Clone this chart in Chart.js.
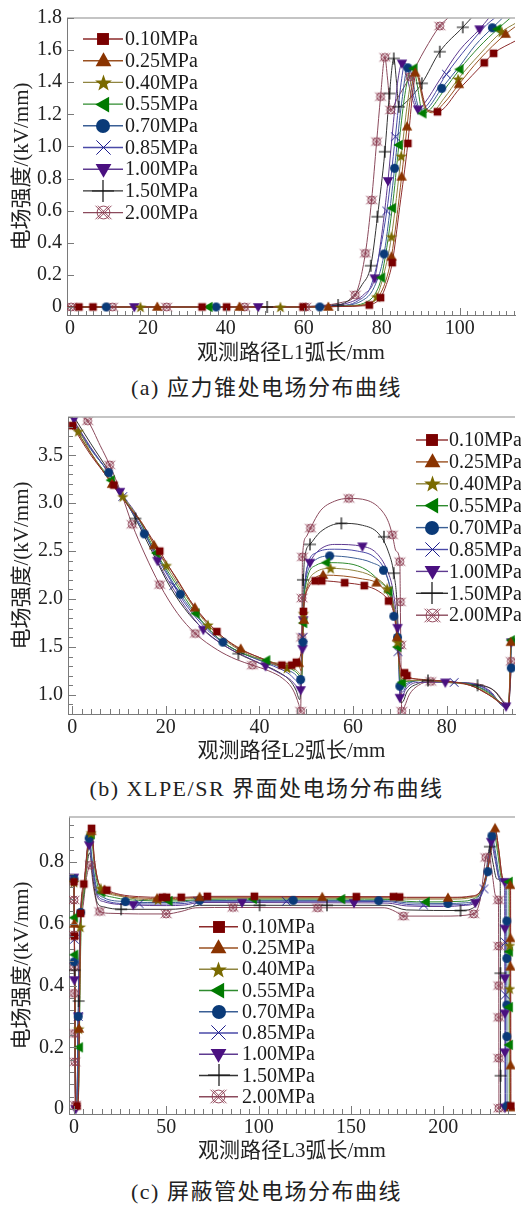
<!DOCTYPE html>
<html>
<head>
<meta charset="utf-8">
<script src="https://cdn.jsdelivr.net/npm/chart.js@4/dist/chart.umd.min.js"></script>
<style>
    body { margin: 0; background: #fff; width: 521px; height: 1205px; position: relative; overflow: hidden; }
    canvas { position: absolute; left: 0; }
    .cap { position: absolute; left: 6px; width: 521px; text-align: center; line-height: 26px;
           font-size: 22px; font-family: 'Liberation Serif', 'Noto Sans CJK SC', serif; color: #222; letter-spacing: 1.5px; }
</style>
</head>
<body>
<canvas id="chartA" width="521" height="366" style="top:0px"></canvas>
<div class="cap" style="top:375px">(a) 应力锥处电场分布曲线</div>
<canvas id="chartB" width="521" height="364" style="top:400px"></canvas>
<div class="cap" style="top:776px">(b) XLPE/SR 界面处电场分布曲线</div>
<canvas id="chartC" width="521" height="364" style="top:800px"></canvas>
<div class="cap" style="top:1179px">(c) 屏蔽管处电场分布曲线</div>
<script>
const pressures = ['0.10MPa', '0.25MPa', '0.40MPa', '0.55MPa', '0.70MPa', '0.85MPa', '1.00MPa', '1.50MPa', '2.00MPa'];

// ---- (a) stress cone, path L1 ----
const aXTicks = [0, 20, 40, 60, 80, 100];
const aYTicks = [0, 0.2, 0.4, 0.6, 0.8, 1.0, 1.2, 1.4, 1.6, 1.8];
const a010 = [[-1,0],[60,0],[70,0.003],[75,0.007],[76.8,0.012],[79.7,0.058],[81.2,0.14],[82.7,0.276],[84.6,0.62],[86.7,1.019],[87.8,1.3],[88.8,1.45],[89.6,1.43],[90.5,1.32],[91.6,1.23],[94.3,1.216],[100,1.36],[106.3,1.521],[108.7,1.58],[114.5,1.66]];
const a010m = [[2.3,0],[5.9,0],[33.9,0],[40.2,0],[59.8,0],[76.8,0.012],[79.7,0.058],[82.7,0.276],[86.7,1.019],[94.3,1.216],[106.3,1.521],[108.7,1.58]];
const a025 = [[-1,0],[60,0],[70,0.004],[76,0.015],[79,0.06],[81,0.16],[82.5,0.313],[85.1,0.811],[86.5,1.123],[87.6,1.35],[88.6,1.459],[89.5,1.42],[90.5,1.3],[91.6,1.225],[93,1.21],[96,1.27],[99.8,1.387],[105,1.54],[111.8,1.70],[114.5,1.75]];
const a025m = [[22.4,0],[43.5,0],[66.3,0],[82.5,0.313],[85.1,0.811],[86.5,1.123],[88.6,1.459],[99.8,1.387],[111.8,1.70]];
const a040 = [[-1,0],[60,0],[70,0.004],[76,0.02],[78.7,0.064],[80.5,0.2],[82.5,0.438],[85,0.94],[86.5,1.25],[87.6,1.42],[88.4,1.48],[89.3,1.43],[90.3,1.31],[91.3,1.22],[93,1.22],[96,1.3],[99.6,1.42],[105,1.57],[110.8,1.714],[114.5,1.77]];
const a040m = [[18.1,0],[54,0],[78.7,0.064],[82.5,0.438],[85,0.94],[99.6,1.42],[110.8,1.714]];
const a055 = [[-1,0],[60,0],[70,0.005],[76,0.03],[78.5,0.09],[79.9,0.183],[82.7,0.616],[84.4,1.009],[85.8,1.3],[87,1.45],[88.2,1.486],[89.2,1.37],[90.5,1.206],[92,1.22],[96,1.35],[100,1.48],[105,1.62],[109.7,1.73],[113,1.8]];
const a055m = [[35.6,0],[79.9,0.183],[82.7,0.616],[84.4,1.009],[88.2,1.486],[90.5,1.206],[100,1.48],[109.7,1.73]];
const a070 = [[-1,0],[60,0],[68,0.005],[75,0.04],[78,0.12],[80.6,0.33],[83.3,0.864],[85,1.25],[86.7,1.49],[87.7,1.45],[88.8,1.3],[90,1.22],[91.5,1.23],[95.4,1.362],[100,1.5],[104,1.63],[108.4,1.739],[111,1.8]];
const a070m = [[9.3,0],[37.5,0],[64.1,0],[80.6,0.33],[83.3,0.864],[86.7,1.49],[95.4,1.362],[108.4,1.739]];
const a085 = [[-1,0],[60,0],[68,0.006],[74,0.04],[77.5,0.15],[81.3,0.598],[83.5,1.06],[85,1.4],[86,1.52],[87,1.45],[88.3,1.3],[89.6,1.23],[91,1.24],[96.6,1.45],[102,1.62],[107,1.76],[109,1.8]];
const a085m = [[81.3,0.598],[83.5,1.06],[96.6,1.45]];
const a100 = [[-1,0],[58,0],[66,0.006],[72,0.03],[75.5,0.08],[78.2,0.179],[80,0.45],[81.6,0.785],[83,1.15],[84.2,1.42],[85.2,1.517],[86.3,1.45],[87.8,1.3],[89.3,1.231],[91,1.27],[95,1.42],[100,1.6],[105.1,1.73],[107.5,1.8]];
const a100m = [[16.5,0],[48.3,0],[78.2,0.179],[81.6,0.785],[85.2,1.517],[89.3,1.231],[105.1,1.73]];
const a150 = [[-1,0],[55,0],[65,0.006],[68.8,0.012],[72,0.05],[75,0.14],[77.2,0.257],[78.9,0.562],[80.8,0.967],[82,1.33],[83.1,1.548],[83.8,1.4],[84.4,1.247],[86,1.27],[90.3,1.393],[94.9,1.59],[100.8,1.742],[103,1.8]];
const a150m = [[50.6,0],[68.8,0.012],[77.2,0.257],[78.9,0.562],[80.8,0.967],[82,1.33],[83.1,1.548],[84.4,1.247],[90.3,1.393],[94.9,1.59],[100.8,1.742]];
const a200 = [[-1,0],[55,0],[65,0.01],[70,0.03],[73.2,0.075],[75.8,0.334],[77.4,0.666],[78.7,1.03],[79.7,1.31],[80.8,1.555],[81.5,1.42],[82.3,1.227],[84,1.3],[87.3,1.434],[91,1.6],[94.9,1.75],[97,1.8]];
const a200m = [[0.3,0],[10.9,0],[24.8,0],[44.8,0],[60.5,0],[73.2,0.075],[75.8,0.334],[77.4,0.666],[78.7,1.03],[79.7,1.31],[80.8,1.555],[82.3,1.227],[87.3,1.434],[94.9,1.75]];

// ---- (b) XLPE/SR interface, path L2 ----
const bXTicks = [0, 20, 40, 60, 80];
const bYTicks = [1.0, 1.5, 2.0, 2.5, 3.0, 3.5];
const b010 = [[0,3.81],[4,3.5],[8.9,3.19],[12,2.97],[15,2.78],[18.7,2.5],[22,2.23],[26,1.93],[30.9,1.66],[35,1.5],[40,1.39],[44.8,1.31],[46.9,1.31],[47.9,1.34],[48.6,1.38],[49.1,1.55],[49.4,1.87],[49.7,2.0],[50.5,2.12],[51.9,2.19],[53.3,2.19],[58.2,2.17],[62.4,2.14],[65.5,2.08],[67.6,1.98],[68.7,1.85],[69.2,1.68],[69.6,1.45],[70.3,1.27],[71,1.23],[71.5,1.2],[74,1.16],[80,1.14],[85,1.1],[89,1.0],[92.2,0.9],[93.2,0.88],[93.8,1.3]];
const b010m = [[0.1,3.81],[8.9,3.19],[18.7,2.5],[30.9,1.66],[44.8,1.31],[46.9,1.31],[47.9,1.34],[49.4,1.87],[51.9,2.19],[53.3,2.19],[58.2,2.17],[62.4,2.14],[67.6,1.98],[71,1.23],[71.5,1.2]];
const b025 = [[0,3.83],[4,3.52],[8.5,3.2],[12,2.97],[15,2.79],[17.5,2.56],[22,2.24],[26.2,1.91],[31,1.65],[36,1.48],[40,1.39],[44,1.33],[47.4,1.33],[48.5,1.3],[48.9,1.25],[49.2,1.45],[49.4,1.9],[49.7,2.02],[50.5,2.15],[51.8,2.22],[53.6,2.25],[58,2.24],[62,2.21],[65,2.17],[67.3,2.05],[68.6,1.9],[69.2,1.72],[69.6,1.45],[70.2,1.2],[70.8,1.17],[72,1.17],[75,1.16],[80,1.14],[85,1.1],[89,1.0],[92.3,0.89],[93.2,0.88],[93.7,1.55]];
const b025m = [[8.5,3.2],[17.5,2.56],[26.2,1.91],[36,1.48],[48.4,1.33],[49.5,1.78],[53.6,2.25],[65,2.17],[69.4,1.6],[93.7,1.55]];
const b040 = [[0,3.77],[1.3,3.75],[4,3.53],[8.5,3.2],[10.8,3.07],[15,2.78],[20.1,2.35],[25,1.98],[29,1.73],[34,1.52],[40,1.37],[45.9,1.28],[47.8,1.26],[48.6,1.22],[49,1.2],[49.3,1.6],[49.5,1.95],[49.8,2.05],[50.6,2.2],[52,2.28],[55.2,2.32],[60,2.3],[64,2.24],[67.3,2.11],[68.6,1.95],[69.3,1.72],[69.7,1.4],[70.2,1.17],[70.8,1.14],[72,1.15],[76,1.15],[80,1.13],[85,1.1],[89,1.01],[92.4,0.89],[93.2,0.88],[93.7,1.5]];
const b040m = [[1.3,3.75],[10.8,3.07],[20.1,2.35],[29,1.73],[45.9,1.28],[49.4,1.85],[55.2,2.32],[67.3,2.11],[69.5,1.55]];
const b055 = [[0,3.84],[4,3.52],[8.3,3.24],[10.5,3.08],[14,2.85],[18,2.48],[22,2.17],[26.4,1.85],[31,1.6],[36,1.44],[41.5,1.36],[45,1.3],[47.5,1.25],[48.5,1.2],[49,1.15],[49.3,1.55],[49.5,2.0],[49.8,2.12],[50.6,2.28],[52,2.35],[54.3,2.38],[59,2.37],[63,2.3],[66,2.17],[67.6,2.08],[68.6,1.9],[69.3,1.7],[69.7,1.42],[70.1,1.15],[70.6,1.13],[71.5,1.14],[75,1.15],[80,1.13],[85,1.11],[89,1.02],[92.4,0.89],[93.2,0.88],[93.8,1.57]];
const b055m = [[8.3,3.24],[18,2.48],[26.4,1.85],[41.5,1.36],[49.4,1.75],[54.3,2.38],[67.6,2.08],[69.5,1.5],[70.5,1.13],[93.8,1.57]];
const b070 = [[0,3.86],[4,3.56],[7.8,3.32],[10.5,3.1],[15.4,2.68],[19,2.38],[23.1,2.05],[27.5,1.77],[32.2,1.55],[37,1.42],[42,1.33],[45.5,1.27],[47.5,1.22],[48.3,1.18],[48.8,1.16],[49.2,1.4],[49.5,1.95],[49.8,2.15],[50.6,2.33],[52,2.41],[55,2.45],[60,2.43],[64,2.38],[66.5,2.3],[67.8,2.15],[68.6,1.95],[69.3,1.7],[69.7,1.4],[70,1.09],[70.6,1.08],[71.5,1.12],[75,1.15],[80,1.13],[85,1.11],[89,1.03],[92.5,0.88],[93.2,0.88],[93.8,1.28]];
const b070m = [[7.8,3.32],[15.4,2.68],[23.1,2.05],[32.2,1.55],[48.8,1.16],[49.3,1.55],[55,2.45],[66.5,2.3],[68.7,1.82],[69.5,1.6],[70,1.09],[93.8,1.28]];
const b085 = [[0,3.88],[4,3.57],[8,3.3],[10.8,3.07],[14,2.82],[19,2.36],[21.7,2.14],[24,1.96],[29,1.67],[34,1.49],[39,1.38],[43,1.3],[46,1.23],[47.8,1.15],[48.7,1.1],[49.1,1.3],[49.4,1.9],[49.8,2.2],[50.6,2.4],[52,2.48],[56,2.52],[61,2.5],[64.5,2.44],[66.8,2.3],[68,2.1],[68.8,1.9],[69.4,1.65],[69.8,1.3],[70,1.03],[70.6,1.03],[71.5,1.1],[75,1.15],[81.6,1.13],[86,1.11],[89,1.04],[92.5,0.88],[93.2,0.88],[93.8,1.5]];
const b085m = [[10.8,3.07],[21.7,2.14],[49.3,1.6],[69.6,1.45],[81.6,1.13]];
const b100 = [[0,3.89],[4,3.58],[8,3.3],[10.2,3.12],[14,2.86],[18.2,2.4],[23,2.0],[28,1.68],[33,1.5],[37,1.4],[41.3,1.3],[44.5,1.22],[46.8,1.15],[48.1,1.08],[48.8,1.05],[49.1,1.3],[49.4,1.8],[49.8,2.2],[50.8,2.38],[52.5,2.5],[56,2.57],[62,2.55],[65,2.48],[67.3,2.3],[68.5,2.1],[69.3,1.8],[69.8,1.5],[70,0.97],[70.5,0.98],[71.3,1.06],[74,1.13],[79.7,1.13],[86,1.11],[89.3,1.04],[92.5,0.87],[93.2,0.88],[93.8,1.55]];
const b100m = [[0.4,3.88],[10.2,3.12],[18.2,2.4],[28,1.68],[41.3,1.3],[48.8,1.05],[49.2,1.48],[49.35,1.78],[50.8,2.38],[62,2.55],[69.5,1.7],[70,0.97],[79.7,1.13],[92.7,0.88],[93.8,1.55]];
const b150 = [[0,3.93],[4,3.62],[8,3.32],[10.5,3.1],[13.5,2.84],[17,2.5],[21,2.12],[25,1.84],[30,1.6],[35.5,1.43],[40,1.33],[44,1.24],[46.5,1.15],[47.8,1.05],[48.6,0.95],[49,1.3],[49.3,2.0],[49.6,2.4],[50.8,2.57],[53,2.7],[57.5,2.79],[62,2.77],[65.5,2.68],[67.5,2.5],[68.7,2.27],[69.4,1.95],[69.9,1.3],[70.2,0.92],[70.7,0.93],[71.5,1.03],[74,1.12],[76,1.15],[80,1.14],[86.6,1.1],[90,1.05],[92.5,0.9],[93.2,0.88],[93.8,1.5]];
const b150m = [[13.5,2.84],[35.5,1.43],[49.3,2.2],[50.8,2.57],[57.5,2.79],[66.6,2.65],[68.7,2.27],[76,1.15],[86.6,1.1]];
const b200 = [[0,3.98],[3.3,3.86],[6,3.6],[8,3.4],[10.5,3.1],[12.8,2.78],[15.5,2.47],[18.7,2.15],[22.5,1.85],[26.3,1.64],[31,1.47],[35,1.37],[38.5,1.31],[42,1.25],[45,1.17],[47.2,1.05],[48.4,0.9],[48.8,0.83],[49,1.6],[49.1,2.01],[49.2,2.44],[50,2.65],[50.9,2.74],[53,2.92],[56,3.02],[59.1,3.05],[63,3.03],[66,2.93],[67.6,2.8],[68.4,2.67],[69.2,2.5],[70,2.39],[70.1,1.97],[70.2,1.52],[70.4,0.83],[71,0.88],[72,1.0],[74,1.1],[76.6,1.14],[82,1.13],[87,1.11],[90.5,1.03],[92.4,0.92],[93.2,0.9],[93.8,1.35]];
const b200m = [[3.3,3.86],[8,3.4],[12.8,2.78],[18.7,2.15],[26.3,1.64],[38.5,1.31],[48.8,0.83],[49,1.6],[49.1,2.01],[49.2,2.44],[50.9,2.74],[59.1,3.05],[68.4,2.67],[70,2.39],[70.1,1.97],[70.2,1.52],[70.4,0.83],[76.6,1.14],[93.8,1.35]];

// ---- (c) shielding tube, path L3 ----
const cXTicks = [0, 50, 100, 150, 200];
const cYTicks = [0, 0.2, 0.4, 0.6, 0.8];
const c010 = [[0,0.736],[0.4,0.4],[0.8,0.02],[1.6,0.01],[2.3,0.02],[2.9,0.3],[3.6,0.634],[5.3,0.729],[7.5,0.86],[9.5,0.909],[11.2,0.8],[13.5,0.73],[17.8,0.709],[25,0.695],[35,0.688],[47.8,0.686],[60,0.686],[72.2,0.689],[100,0.689],[152.9,0.688],[173,0.688],[180,0.686],[205,0.686],[215,0.69],[220,0.705],[223.5,0.76],[226.5,0.86],[228.3,0.9],[230,0.84],[232,0.75],[234,0.738],[236.4,0.735],[236.5,0.4],[236.6,0]];
const c010m = [[0,0.736],[0.3,0.56],[1.6,0.01],[3.6,0.634],[5.3,0.729],[9.5,0.909],[17.8,0.709],[47.8,0.686],[50.1,0.686],[58.1,0.686],[72.2,0.689],[97.7,0.689],[152.9,0.688],[173,0.688],[176.3,0.687],[236.6,0.01]];
const c025 = [[0,0.73],[0.45,0.4],[0.9,0.02],[1.7,0.01],[2.4,0.05],[3,0.35],[3.7,0.62],[5.5,0.73],[7.6,0.855],[9.4,0.9],[11.2,0.8],[13.5,0.73],[16.5,0.71],[25,0.692],[35,0.684],[50,0.682],[60,0.683],[68,0.686],[100,0.686],[134.4,0.686],[172,0.686],[180,0.684],[202.5,0.684],[215,0.688],[220,0.705],[223.5,0.765],[226.5,0.87],[228,0.909],[229.8,0.85],[232,0.75],[234,0.737],[236.2,0.735],[236.3,0.45],[236.4,0]];
const c025m = [[0.2,0.6],[2.7,0.26],[9.4,0.9],[16.5,0.71],[45,0.682],[68,0.686],[134.4,0.686],[202.5,0.684],[228,0.909],[236.2,0.725],[236.3,0.553],[236.3,0.461],[236.4,0.141],[236.4,0.005]];
const c040 = [[0,0.74],[0.45,0.4],[0.9,0.02],[1.7,0.01],[2.4,0.05],[3.1,0.35],[3.8,0.6],[5.6,0.72],[7.7,0.85],[9.3,0.895],[11.1,0.8],[13.5,0.725],[16.5,0.705],[25,0.689],[35,0.68],[45.5,0.678],[58,0.679],[68,0.683],[100,0.683],[170,0.683],[180,0.68],[205,0.68],[215,0.685],[220,0.7],[223.5,0.76],[226.3,0.86],[227.8,0.9],[229.6,0.84],[231.8,0.745],[234,0.735],[235.8,0.732],[235.9,0.4],[236,0]];
const c040m = [[0,0.735],[2.6,0.26],[3.4,0.59],[9.3,0.895],[14.5,0.715],[45.5,0.678],[235.9,0.53],[235.9,0.39]];
const c055 = [[0,0.74],[0.45,0.4],[0.9,0.02],[1.7,0.01],[2.5,0.05],[3.2,0.35],[3.9,0.6],[5.7,0.71],[7.7,0.845],[9.2,0.89],[11,0.79],[13,0.72],[14.8,0.702],[22,0.685],[35,0.676],[51.3,0.674],[60,0.675],[68,0.679],[97,0.68],[144.8,0.68],[170,0.679],[180,0.673],[190.6,0.671],[210,0.673],[216,0.68],[220,0.7],[223.5,0.76],[226.2,0.86],[227.6,0.89],[229.4,0.83],[231.6,0.745],[234,0.737],[235.5,0.736],[235.6,0.4],[235.7,0]];
const c055m = [[0.1,0.62],[0.25,0.5],[2.8,0.2],[9.2,0.89],[14.8,0.702],[51.3,0.674],[97,0.68],[144.8,0.68],[190.6,0.671],[235.5,0.736],[235.6,0.51],[235.6,0.33],[235.6,0.208]];
const c070 = [[0,0.745],[0.45,0.4],[0.9,0.02],[1.6,0.01],[2.3,0.3],[3.6,0.637],[5.5,0.72],[7.2,0.84],[8.2,0.877],[10,0.8],[12.5,0.71],[16,0.685],[27.8,0.672],[40,0.669],[55,0.669],[66,0.675],[118.7,0.676],[165,0.675],[172,0.674],[180,0.668],[202.5,0.666],[212,0.668],[218,0.68],[221.5,0.72],[224.1,0.769],[226.3,0.885],[228,0.84],[230.5,0.75],[232.5,0.737],[234.3,0.735],[234.4,0.4],[234.5,0]];
const c070m = [[0,0.745],[0.1,0.477],[2.3,0.3],[3.6,0.637],[8.2,0.877],[27.8,0.672],[68,0.676],[118.7,0.676],[165,0.675],[202.5,0.666],[224.1,0.769],[226.3,0.885],[234.4,0.609],[234.4,0.488],[234.4,0.337],[234.4,0.235],[234.5,0.01]];
const c085 = [[0,0.745],[0.45,0.4],[0.9,0.02],[1.6,0.01],[2.3,0.3],[3.5,0.62],[5.4,0.715],[7.2,0.835],[8.3,0.868],[10,0.79],[12.5,0.7],[16,0.678],[30,0.665],[50,0.664],[60,0.666],[68,0.673],[115,0.673],[170,0.672],[180,0.663],[189.3,0.661],[210,0.662],[217,0.672],[222,0.713],[224.2,0.78],[226,0.87],[227.8,0.83],[230.2,0.745],[232,0.737],[233.5,0.735],[233.6,0.4],[233.7,0]];
const c085m = [[0.2,0.55],[2.3,0.3],[35.3,0.665],[67,0.673],[115,0.673],[189.3,0.661],[222,0.713],[233.6,0.54],[233.6,0.37]];
const c100 = [[0,0.75],[0.45,0.42],[0.9,0],[1.5,0],[2.2,0.25],[3.4,0.6],[5.3,0.71],[7.1,0.82],[8.2,0.855],[10,0.775],[12.5,0.69],[16,0.672],[32.1,0.661],[50,0.659],[60,0.661],[68,0.669],[91,0.669],[151.6,0.668],[170,0.667],[180,0.658],[200,0.656],[212,0.66],[217.3,0.668],[221.5,0.715],[224,0.79],[225.9,0.866],[227.6,0.82],[230,0.75],[232,0.738],[233.2,0.736],[233.3,0.4],[233.4,0]];
const c100m = [[0,0.75],[0.15,0.418],[0.9,0],[2.3,0.3],[8.2,0.855],[32.1,0.661],[91,0.669],[151.6,0.668],[217.3,0.668],[225.9,0.866],[233.2,0.736],[233.3,0.585],[233.3,0.424],[233.3,0.31],[233.3,0.184],[233.4,0.005]];
const c150 = [[0,0.72],[0.45,0.4],[0.9,0],[1.5,0],[2.2,0.25],[3.3,0.58],[5.2,0.69],[7,0.79],[8.5,0.83],[10.2,0.75],[12.5,0.67],[16,0.655],[25.5,0.647],[50,0.647],[60,0.65],[68,0.66],[100.5,0.66],[137,0.66],[170,0.66],[180,0.645],[209.3,0.643],[215,0.648],[220,0.685],[223,0.76],[225.2,0.85],[226.8,0.8],[229,0.745],[230.8,0.735],[230.9,0.4],[231,0]];
const c150m = [[0.3,0.45],[2.5,0.35],[25.5,0.647],[100.5,0.66],[137,0.66],[209.3,0.643],[225.2,0.85],[230.9,0.44],[231,0.108]];
const c200 = [[0,0.677],[0.4,0.3],[0.7,0.013],[1.4,0],[2.1,0.2],[3.2,0.56],[5,0.66],[6.8,0.75],[8.9,0.79],[10.5,0.72],[13.9,0.64],[20,0.634],[35,0.632],[49.9,0.632],[58,0.64],[66,0.652],[86.1,0.653],[131.9,0.652],[168,0.652],[174,0.64],[178.4,0.625],[200,0.625],[216.4,0.632],[220,0.68],[223,0.815],[224.5,0.83],[226.5,0.76],[228.4,0.69],[229.8,0.677],[230,0.4],[230.1,0]];
const c200m = [[0,0.677],[0.05,0.564],[0.1,0.46],[0.2,0.375],[0.3,0.245],[0.5,0.153],[0.7,0.013],[8.9,0.79],[13.9,0.64],[49.9,0.632],[86.1,0.653],[131.9,0.652],[178.4,0.625],[216.4,0.632],[223,0.815],[229.8,0.677],[230,0.528],[230,0.4],[230,0.297],[230,0.165],[230.1,0.003]];

// ---- look ----
const markColors = ['#7a0000', '#8a3300', '#7a6a00', '#007a00', '#0a3a78', '#1c1c8c', '#4a1080', '#111111', '#8b3a4f'];
const lineColors = ['#8c2a2a', '#9a5020', '#8f8540', '#2e8b2e', '#3a5f95', '#4a4aa8', '#5e3a90', '#333333', '#8b4a5c'];
const kinds = ['square', 'triUp', 'star', 'triLeft', 'circle', 'x', 'triDown', 'plus', 'xcircle'];
const plotSize = { square: 9, triUp: 10, star: 11, triLeft: 10, circle: 9, x: 9, triDown: 10, plus: 11, xcircle: 10 };
const legendSize = { square: 14, triUp: 15, star: 16, triLeft: 15, circle: 14, x: 15, triDown: 15, plus: 20, xcircle: 16 };

Chart.defaults.font.family = "'Liberation Serif', 'Noto Sans CJK SC', serif";
Chart.defaults.color = '#222';

function makeMarker(kind, color, s) {
    const c = document.createElement('canvas');
    const n = Math.ceil(s * 1.4) + 2;
    c.width = n; c.height = n;
    const g = c.getContext('2d');
    const m = n / 2;
    g.fillStyle = color;
    g.strokeStyle = color;
    g.lineWidth = 1;
    const poly = pts => {
        g.beginPath();
        pts.forEach((p, i) => i ? g.lineTo(m + p[0], m + p[1]) : g.moveTo(m + p[0], m + p[1]));
        g.closePath();
        g.fill();
    };
    const r = s / 2;
    if (kind === 'square') {
        g.fillRect(m - r * 0.85, m - r * 0.85, r * 1.7, r * 1.7);
    } else if (kind === 'triUp') {
        poly([[0, -r * 1.1], [r * 1.05, r * 0.75], [-r * 1.05, r * 0.75]]);
    } else if (kind === 'triDown') {
        poly([[0, r * 1.1], [r * 1.05, -r * 0.75], [-r * 1.05, -r * 0.75]]);
    } else if (kind === 'triLeft') {
        poly([[-r * 1.1, 0], [r * 0.75, -r * 1.05], [r * 0.75, r * 1.05]]);
    } else if (kind === 'star') {
        const pts = [];
        for (let k = 0; k < 10; k++) {
            const a = -Math.PI / 2 + k * Math.PI / 5;
            const rad = k % 2 ? r * 0.45 : r * 1.1;
            pts.push([Math.cos(a) * rad, Math.sin(a) * rad + r * 0.1]);
        }
        poly(pts);
    } else if (kind === 'circle') {
        g.beginPath(); g.arc(m, m, r, 0, Math.PI * 2); g.fill();
    } else if (kind === 'x') {
        const h = r * 0.95;
        g.beginPath();
        g.moveTo(m - h, m - h); g.lineTo(m + h, m + h);
        g.moveTo(m + h, m - h); g.lineTo(m - h, m + h);
        g.stroke();
    } else if (kind === 'plus') {
        const h = r * 1.1;
        g.lineWidth = 1.2;
        g.beginPath();
        g.moveTo(m - h, m); g.lineTo(m + h, m);
        g.moveTo(m, m - h); g.lineTo(m, m + h);
        g.stroke();
    } else if (kind === 'xcircle') {
        const h = r * 0.85;
        g.lineWidth = 0.9;
        g.beginPath(); g.arc(m, m, r * 0.8, 0, Math.PI * 2); g.stroke();
        g.beginPath();
        [-1.2, 1.2].forEach(o => {
            g.moveTo(m - h + o, m - h); g.lineTo(m + h + o, m + h);
            g.moveTo(m + h + o, m - h); g.lineTo(m - h + o, m + h);
        });
        g.stroke();
    }
    return c;
}

const plotMarkers = kinds.map((k, i) => makeMarker(k, markColors[i], plotSize[k]));
const legendMarkers = kinds.map((k, i) => makeMarker(k, markColors[i], legendSize[k]));

const seriesLegend = {
    id: 'seriesLegend',
    afterDatasetsDraw(chart, args, o) {
        const ctx = chart.ctx;
        ctx.save();
        ctx.font = "20px 'Liberation Serif'";
        ctx.textBaseline = 'middle';
        pressures.forEach((label, i) => {
            const y = o.y + i * o.dy;
            ctx.strokeStyle = lineColors[i];
            ctx.lineWidth = 1.4;
            ctx.beginPath(); ctx.moveTo(o.x0, y); ctx.lineTo(o.x1, y); ctx.stroke();
            const img = legendMarkers[i];
            ctx.drawImage(img, Math.round((o.x0 + o.x1) / 2 - img.width / 2), Math.round(y - img.height / 2));
            ctx.fillStyle = '#1a1a1a';
            ctx.fillText(label, o.tx, y + 1);
        });
        ctx.restore();
    }
};

const innerTicks = {
    id: 'innerTicks',
    afterDatasetsDraw(chart, args, o) {
        const { ctx, chartArea: area, scales } = chart;
        ctx.save();
        ctx.strokeStyle = '#b0b0b0';
        ctx.lineWidth = 1.5;
        ctx.beginPath(); ctx.moveTo(area.left, area.top); ctx.lineTo(area.right, area.top); ctx.stroke();
        ctx.strokeStyle = '#7a7a7a';
        ctx.lineWidth = 1;
        ['x', 'y'].forEach(id => {
            const s = scales[id];
            const step = o[id + 'Minor'];
            const majors = s.ticks.map(t => t.value);
            for (let k = Math.ceil(s.min / step - 1e-9); k * step <= s.max + 1e-9; k++) {
                const v = k * step;
                const major = majors.some(mv => Math.abs(mv - v) < step / 100);
                const len = major ? o.majorLen : o.minorLen;
                const p = Math.round(s.getPixelForValue(v)) + 0.5;
                ctx.beginPath();
                if (id === 'x') { ctx.moveTo(p, area.bottom); ctx.lineTo(p, area.bottom - len); }
                else { ctx.moveTo(area.left, p); ctx.lineTo(area.left + len, p); }
                ctx.stroke();
            }
        });
        ctx.restore();
    }
};

function buildDatasets(lines, marks) {
    const sets = [];
    lines.forEach((pts, i) => sets.push({
        data: pts.map(p => ({ x: p[0], y: p[1] })),
        showLine: true,
        borderColor: lineColors[i],
        borderWidth: 1,
        pointRadius: 0,
        cubicInterpolationMode: 'monotone',
        order: 2
    }));
    marks.forEach((pts, i) => sets.push({
        data: pts.map(p => ({ x: p[0], y: p[1] })),
        showLine: false,
        pointStyle: plotMarkers[i],
        pointRadius: 5,
        order: 1
    }));
    return sets;
}

function fmt(v) { return v === 0 ? '0' : v.toFixed(1); }

function makeChart(id, cfg) {
    return new Chart(document.getElementById(id), {
        type: 'scatter',
        data: { datasets: buildDatasets(cfg.lines, cfg.marks) },
        options: {
            responsive: false,
            animation: false,
            layout: { padding: { top: cfg.padTop, left: 0, right: cfg.padRight, bottom: 0 } },
            plugins: {
                legend: { display: false },
                tooltip: { enabled: false },
                seriesLegend: cfg.legend,
                innerTicks: cfg.ticks
            },
            scales: {
                x: {
                    type: 'linear',
                    min: cfg.xMin, max: cfg.xMax,
                    afterBuildTicks: s => { s.ticks = cfg.xTicks.map(v => ({ value: v })); },
                    afterFit: s => { s.height = cfg.xHeight; },
                    grid: { display: false, drawTicks: false },
                    border: { color: '#7a7a7a', width: 1 },
                    ticks: { padding: 2, font: { size: 20 }, color: '#222', maxRotation: 0, callback: v => String(v) },
                    title: { display: true, text: cfg.xTitle, font: { size: 21 }, color: '#222', padding: { top: 0, bottom: 0 } }
                },
                y: {
                    type: 'linear',
                    min: cfg.yMin, max: cfg.yMax,
                    afterBuildTicks: s => { s.ticks = cfg.yTicks.map(v => ({ value: v })); },
                    afterFit: s => { s.width = cfg.yWidth; },
                    grid: { display: false, drawTicks: false },
                    border: { color: '#7a7a7a', width: 1 },
                    ticks: { padding: 5, font: { size: 20 }, color: '#222', callback: v => fmt(v) },
                    title: { display: true, text: '电场强度/(kV/mm)', font: { size: 21 }, color: '#222', padding: { top: 10, bottom: 0 } }
                }
            }
        },
        plugins: [innerTicks, seriesLegend]
    });
}

makeChart('chartA', {
    lines: [a010, a025, a040, a055, a070, a085, a100, a150, a200],
    marks: [a010m, a025m, a040m, a055m, a070m, a085m, a100m, a150m, a200m],
    xMin: -0.76, xMax: 114.2, yMin: -0.05, yMax: 1.8,
    xTicks: aXTicks, yTicks: aYTicks,
    xTitle: '观测路径L1弧长/mm',
    padTop: 18, padRight: 0, xHeight: 51, yWidth: 67,
    legend: { x0: 83, x1: 123, tx: 125, y: 39, dy: 21.7 },
    ticks: { xMinor: 2, yMinor: 0.2, majorLen: 7, minorLen: 4 }
});

makeChart('chartB', {
    lines: [b010, b025, b040, b055, b070, b085, b100, b150, b200],
    marks: [b010m, b025m, b040m, b055m, b070m, b085m, b100m, b150m, b200m],
    xMin: -0.9, xMax: 94.6, yMin: 0.8, yMax: 3.9,
    xTicks: bXTicks, yTicks: bYTicks,
    xTitle: '观测路径L2弧长/mm',
    padTop: 17, padRight: 0, xHeight: 50, yWidth: 68,
    legend: { x0: 416, x1: 448, tx: 449, y: 40, dy: 21.9 },
    ticks: { xMinor: 2, yMinor: 0.1, majorLen: 8, minorLen: 5 }
});

makeChart('chartC', {
    lines: [c010, c025, c040, c055, c070, c085, c100, c150, c200],
    marks: [c010m, c025m, c040m, c055m, c070m, c085m, c100m, c150m, c200m],
    xMin: -2.7, xMax: 238.8, yMin: -0.016, yMax: 0.946,
    xTicks: cXTicks, yTicks: cYTicks,
    xTitle: '观测路径L3弧长/mm',
    padTop: 17, padRight: 1, xHeight: 50, yWidth: 69,
    legend: { x0: 199, x1: 238, tx: 242, y: 126.7, dy: 21.25 },
    ticks: { xMinor: 5, yMinor: 0.04, majorLen: 8, minorLen: 5 }
});
</script>
</body>
</html>
